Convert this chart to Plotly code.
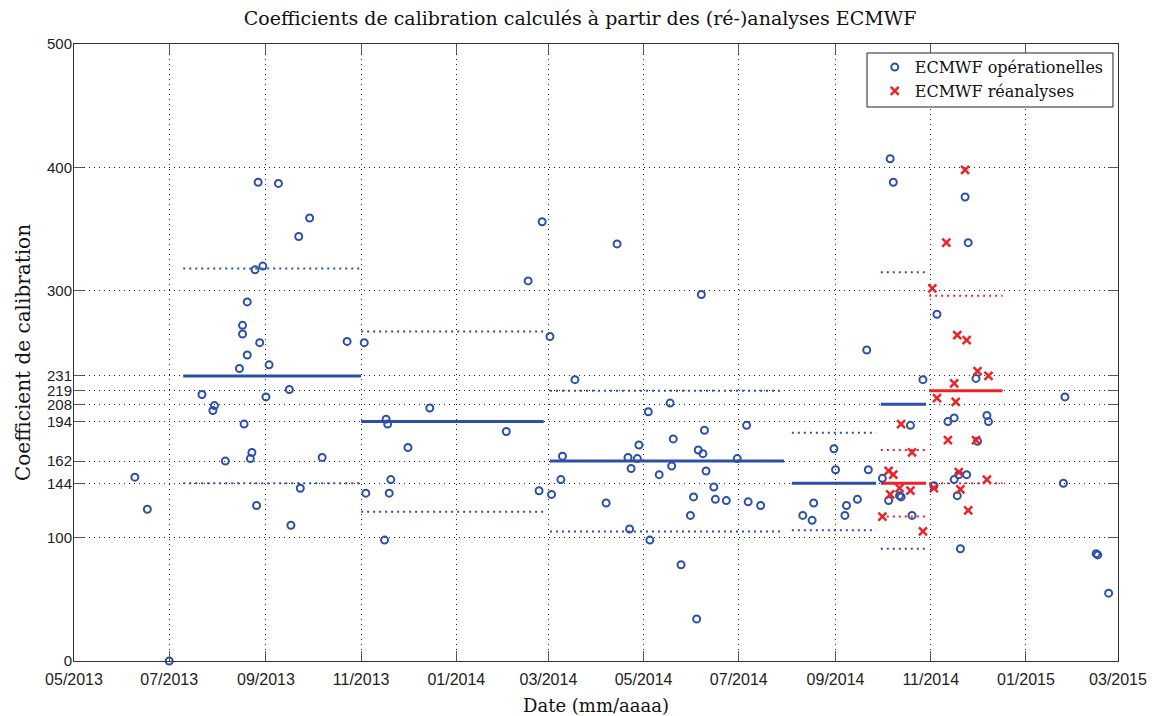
import plotly.graph_objects as go

# ---------------- data ----------------
blue_dates = [
    "2013-06-09", "2013-06-17", "2013-07-01", "2013-07-22", "2013-07-29", "2013-07-30",
    "2013-08-06", "2013-08-15", "2013-08-17", "2013-08-17", "2013-08-18", "2013-08-20",
    "2013-08-20", "2013-08-22", "2013-08-23", "2013-08-25", "2013-08-26", "2013-08-27",
    "2013-08-28", "2013-08-30", "2013-09-01", "2013-09-03", "2013-09-09", "2013-09-16",
    "2013-09-17", "2013-09-22", "2013-09-23", "2013-09-29", "2013-10-07", "2013-10-23",
    "2013-11-03", "2013-11-04", "2013-11-16", "2013-11-17", "2013-11-18", "2013-11-19",
    "2013-11-20", "2013-12-01", "2013-12-15", "2014-02-02", "2014-02-16", "2014-02-23",
    "2014-02-25", "2014-03-02", "2014-03-03", "2014-03-09", "2014-03-10", "2014-03-18",
    "2014-04-07", "2014-04-14", "2014-04-21", "2014-04-22", "2014-04-23", "2014-04-27",
    "2014-04-28", "2014-05-04", "2014-05-05", "2014-05-11", "2014-05-18", "2014-05-19",
    "2014-05-20", "2014-05-25", "2014-05-31", "2014-06-02", "2014-06-04", "2014-06-05",
    "2014-06-07", "2014-06-08", "2014-06-09", "2014-06-10", "2014-06-15", "2014-06-16",
    "2014-06-23", "2014-06-30", "2014-07-06", "2014-07-07", "2014-07-15", "2014-08-11",
    "2014-08-17", "2014-08-18", "2014-08-31", "2014-09-01", "2014-09-07", "2014-09-08",
    "2014-09-15", "2014-09-21", "2014-09-22", "2014-10-01", "2014-10-05", "2014-10-06",
    "2014-10-08", "2014-10-12", "2014-10-13", "2014-10-19", "2014-10-20", "2014-10-27",
    "2014-11-03", "2014-11-05", "2014-11-12", "2014-11-16", "2014-11-16", "2014-11-18",
    "2014-11-19", "2014-11-20", "2014-11-23", "2014-11-24", "2014-11-25", "2014-11-30",
    "2014-12-01", "2014-12-07", "2014-12-08", "2015-01-26", "2015-01-25", "2015-02-15",
    "2015-02-16", "2015-02-23",
]
blue_values = [
    149, 123, 0, 216, 203, 207,
    162, 237, 265, 272, 192, 291,
    248, 164, 169, 317, 126, 388,
    258, 320, 214, 240, 387, 220,
    110, 344, 140, 359, 165, 259,
    258, 136, 98, 196, 192, 136,
    147, 173, 205, 186, 308, 138,
    356, 263, 135, 147, 166, 228,
    128, 338, 165, 107, 156, 164,
    175, 202, 98, 151, 209, 158,
    180, 78, 118, 133, 34, 171,
    297, 168, 187, 154, 141, 131,
    130, 164, 191, 129, 126, 118,
    114, 128, 172, 155, 118, 126,
    131, 252, 155, 148, 130, 407,
    388, 134, 133, 191, 118, 228,
    142, 281, 194, 197, 147, 134,
    151, 91, 376, 151, 339, 229,
    178, 199, 194, 214, 144, 87,
    86, 55,
]

red_dates = [
    "2014-10-01", "2014-10-05", "2014-10-06", "2014-10-08", "2014-10-12", "2014-10-13",
    "2014-10-19", "2014-10-20", "2014-10-27", "2014-11-02", "2014-11-03", "2014-11-05",
    "2014-11-11", "2014-11-12", "2014-11-16", "2014-11-17", "2014-11-18", "2014-11-19",
    "2014-11-20", "2014-11-23", "2014-11-24", "2014-11-25", "2014-11-30", "2014-12-01",
    "2014-12-07", "2014-12-08",
]
red_values = [
    117, 154, 135, 151, 140, 192,
    138, 169, 105, 302, 140, 213,
    339, 179, 225, 210, 264, 153,
    139, 398, 260, 122, 179, 235,
    147, 231,
]

# period means (solid) and mean +/- std (dotted)
blue_seg_start = ["2013-07-10", "2013-11-01", "2014-03-02", "2014-08-04", "2014-09-30"]
blue_seg_end = ["2013-11-01", "2014-02-26", "2014-07-30", "2014-09-27", "2014-10-29"]
blue_seg_mean = [231, 194, 162, 144, 208]
blue_seg_upper = [318, 267, 219, 185, 315]
blue_seg_lower = [144, 121, 105, 106, 91]

red_seg_start = ["2014-09-30", "2014-10-31"]
red_seg_end = ["2014-10-29", "2014-12-17"]
red_seg_mean = [144, 219]
red_seg_upper = [171, 296]
red_seg_lower = [117, 144]

y_ticks = [0, 100, 144, 162, 194, 208, 219, 231, 300, 400, 500]

# ---------------- styles ----------------
BLUE = "#2C50A8"
RED = "#EC2229"
SERIF = "DejaVu Serif"
SANS = "Liberation Sans"

fig = go.Figure()


def add_segments(starts, ends, means, uppers, lowers, color):
    for s, e, m, u, l in zip(starts, ends, means, uppers, lowers):
        for val, dash, width in ((u, "2px,4px", 2), (l, "2px,4px", 2), (m, "solid", 3)):
            fig.add_trace(go.Scatter(
                x=[s, e], y=[val, val], mode="lines",
                line=dict(color=color, width=width, dash=dash),
                showlegend=False, hoverinfo="skip",
            ))


add_segments(blue_seg_start, blue_seg_end, blue_seg_mean, blue_seg_upper, blue_seg_lower, BLUE)
add_segments(red_seg_start, red_seg_end, red_seg_mean, red_seg_upper, red_seg_lower, RED)

fig.add_trace(go.Scatter(
    x=blue_dates, y=blue_values, mode="markers", name="ECMWF opérationelles",
    marker=dict(symbol="circle-open", size=7, color=BLUE, line=dict(width=2, color=BLUE)),
    cliponaxis=False,
))
fig.add_trace(go.Scatter(
    x=red_dates, y=red_values, mode="markers", name="ECMWF réanalyses",
    marker=dict(symbol="x-thin-open", size=8, color=RED, line=dict(width=2.5, color=RED)),
    cliponaxis=False,
))

axis_common = dict(
    showline=True, linecolor="#333333", linewidth=1, mirror="ticks",
    ticks="inside", ticklen=10, tickcolor="#555555", tickwidth=1,
    showgrid=True, gridcolor="#222222", gridwidth=1, griddash="1px,4px",
    zeroline=False, automargin=False,
)

fig.update_xaxes(
    type="date", range=["2013-05-01", "2015-03-01"],
    tick0="2013-05-01", dtick="M2", tickformat="%m/%Y", ticklabelstandoff=4,
    tickfont=dict(family=SANS, size=16, color="#222222"),
    title=dict(text="Date (mm/aaaa)", font=dict(family=SERIF, size=18, color="#111111"), standoff=14),
    **axis_common,
)
fig.update_yaxes(
    range=[0, 500], tickmode="array", tickvals=y_ticks, ticktext=[str(v) for v in y_ticks],
    ticklabelstandoff=-2,
    tickfont=dict(family=SANS, size=15, color="#222222"),
    title=dict(text="Coefficient de calibration", font=dict(family=SERIF, size=20, color="#111111"), standoff=10),
    **axis_common,
)

# legend frame (paper coordinates)
fig.add_shape(type="rect", xref="paper", yref="paper",
              x0=0.7596, x1=0.9952, y0=0.8979, y1=0.9854,
              line=dict(color="#222222", width=1), fillcolor="white", layer="above")

fig.update_layout(
    width=1150, height=708,
    margin=dict(l=66, r=40, t=36, b=55),
    paper_bgcolor="white", plot_bgcolor="white",
    title=dict(text="Coefficients de calibration calculés à partir des (ré-)analyses ECMWF",
               font=dict(family=SERIF, size=19, color="#111111"),
               x=0.4975, xref="container", xanchor="center", y=0.985, yanchor="middle"),
    legend=dict(
        x=0.767, y=0.990, xanchor="left", yanchor="top",
        bgcolor="rgba(0,0,0,0)", borderwidth=0,
        font=dict(family=SERIF, size=16, color="#111111"),
        itemwidth=30,
    ),
    showlegend=True,
)

fig.write_html("out.html")
